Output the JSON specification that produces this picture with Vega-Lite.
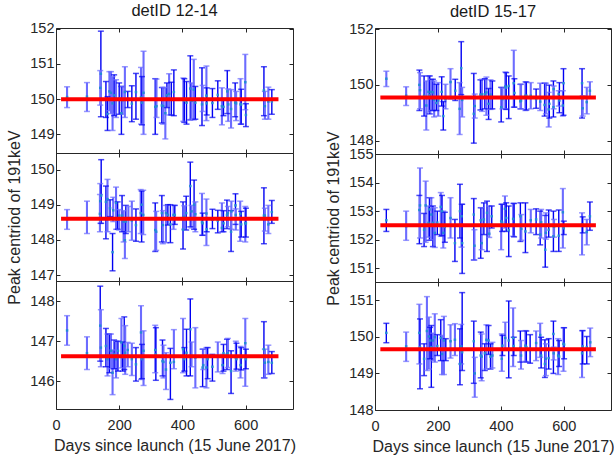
{
"$schema": "https://vega.github.io/schema/vega-lite/v6.json",
"padding": {"left": 6, "top": 2, "right": 2, "bottom": 0},
"background": "white",
"config": {
  "view": {"stroke": "#262626", "strokeWidth": 1},
  "axis": {"domain": false, "grid": false, "tickColor": "#262626", "tickSize": -4, "tickWidth": 1, "labelFlush": false, "labelFont": "Liberation Sans", "labelFontSize": 14.5, "labelColor": "#262626", "titleFont": "Liberation Sans", "titleFontSize": 16, "titleFontWeight": "normal", "titleColor": "#262626"},
  "axisX": {"labelPadding": 13, "titlePadding": 6},
  "axisY": {"labelPadding": 6, "titlePadding": 7},
  "title": {"font": "Liberation Sans", "fontSize": 16.5, "fontWeight": "normal", "color": "#1a1a1a", "offset": 1}
},
"datasets": {
"fit": [
 {"p":"lt","x0":16,"x1":704,"y":150.0},
 {"p":"lm","x0":16,"x1":704,"y":148.6},
 {"p":"lb","x0":16,"x1":704,"y":146.62},
 {"p":"rt","x0":17,"x1":702,"y":149.55},
 {"p":"rm","x0":17,"x1":702,"y":152.51},
 {"p":"rb","x0":17,"x1":702,"y":149.66}
],
"pts": [
 {"p":"lt","d":35,"c":150.06,"lo":149.76,"hi":150.35,"g":"b"},
 {"p":"lt","d":98,"c":150.07,"lo":149.65,"hi":150.47,"g":"b"},
 {"p":"lt","d":142,"c":150.72,"lo":149.5,"hi":151.93,"g":"a"},
 {"p":"lt","d":140,"c":150.32,"lo":149.83,"hi":150.81,"g":"b"},
 {"p":"lt","d":158,"c":150.0,"lo":149.48,"hi":150.5,"g":"a"},
 {"p":"lt","d":163,"c":149.58,"lo":149.11,"hi":150.07,"g":"a"},
 {"p":"lt","d":169,"c":150.22,"lo":149.67,"hi":150.78,"g":"b"},
 {"p":"lt","d":174,"c":150.18,"lo":149.59,"hi":150.78,"g":"b"},
 {"p":"lt","d":179,"c":149.88,"lo":149.11,"hi":150.64,"g":"b"},
 {"p":"lt","d":184,"c":150.11,"lo":149.53,"hi":150.69,"g":"a"},
 {"p":"lt","d":190,"c":150.02,"lo":149.48,"hi":150.55,"g":"b"},
 {"p":"lt","d":200,"c":150.02,"lo":149.57,"hi":150.46,"g":"a"},
 {"p":"lt","d":207,"c":149.6,"lo":149.0,"hi":150.36,"g":"a"},
 {"p":"lt","d":211,"c":149.97,"lo":149.57,"hi":150.36,"g":"b"},
 {"p":"lt","d":218,"c":150.2,"lo":149.48,"hi":150.92,"g":"b"},
 {"p":"lt","d":227,"c":150.0,"lo":149.76,"hi":150.22,"g":"a"},
 {"p":"lt","d":240,"c":149.87,"lo":149.36,"hi":150.38,"g":"a"},
 {"p":"lt","d":253,"c":150.2,"lo":149.43,"hi":150.73,"g":"a"},
 {"p":"lt","d":269,"c":150.05,"lo":149.29,"hi":150.9,"g":"b"},
 {"p":"lt","d":272,"c":149.9,"lo":149.27,"hi":150.64,"g":"a"},
 {"p":"lt","d":277,"c":150.18,"lo":149.0,"hi":151.36,"g":"b"},
 {"p":"lt","d":314,"c":149.78,"lo":149.0,"hi":150.58,"g":"a"},
 {"p":"lt","d":318,"c":149.8,"lo":149.48,"hi":150.57,"g":"b"},
 {"p":"lt","d":335,"c":149.82,"lo":149.32,"hi":150.33,"g":"a"},
 {"p":"lt","d":339,"c":149.8,"lo":149.29,"hi":150.33,"g":"b"},
 {"p":"lt","d":346,"c":149.6,"lo":148.87,"hi":150.33,"g":"b"},
 {"p":"lt","d":351,"c":150.11,"lo":149.76,"hi":150.46,"g":"a"},
 {"p":"lt","d":358,"c":150.15,"lo":149.55,"hi":150.72,"g":"b"},
 {"p":"lt","d":365,"c":150.0,"lo":149.55,"hi":150.48,"g":"a"},
 {"p":"lt","d":373,"c":150.2,"lo":149.53,"hi":150.83,"g":"a"},
 {"p":"lt","d":403,"c":149.98,"lo":149.37,"hi":150.6,"g":"b"},
 {"p":"lt","d":406,"c":149.96,"lo":149.34,"hi":150.58,"g":"a"},
 {"p":"lt","d":413,"c":149.9,"lo":149.29,"hi":150.5,"g":"a"},
 {"p":"lt","d":425,"c":150.3,"lo":149.41,"hi":151.23,"g":"a"},
 {"p":"lt","d":429,"c":149.95,"lo":149.43,"hi":150.46,"g":"b"},
 {"p":"lt","d":436,"c":150.27,"lo":149.41,"hi":151.13,"g":"b"},
 {"p":"lt","d":441,"c":149.9,"lo":149.43,"hi":150.36,"g":"a"},
 {"p":"lt","d":462,"c":149.85,"lo":149.25,"hi":150.89,"g":"a"},
 {"p":"lt","d":464,"c":150.02,"lo":149.65,"hi":150.39,"g":"b"},
 {"p":"lt","d":476,"c":150.1,"lo":149.39,"hi":150.94,"g":"b"},
 {"p":"lt","d":477,"c":149.88,"lo":149.55,"hi":150.32,"g":"a"},
 {"p":"lt","d":495,"c":149.89,"lo":149.48,"hi":150.3,"g":"a"},
 {"p":"lt","d":512,"c":150.12,"lo":149.71,"hi":150.52,"g":"a"},
 {"p":"lt","d":525,"c":149.8,"lo":149.27,"hi":150.32,"g":"b"},
 {"p":"lt","d":530,"c":149.78,"lo":149.53,"hi":150.02,"g":"a"},
 {"p":"lt","d":542,"c":150.22,"lo":149.59,"hi":150.81,"g":"a"},
 {"p":"lt","d":545,"c":149.85,"lo":149.37,"hi":150.29,"g":"b"},
 {"p":"lt","d":554,"c":149.72,"lo":149.18,"hi":150.27,"g":"b"},
 {"p":"lt","d":567,"c":149.9,"lo":149.5,"hi":150.46,"g":"a"},
 {"p":"lt","d":570,"c":149.88,"lo":149.39,"hi":150.22,"g":"b"},
 {"p":"lt","d":584,"c":149.85,"lo":149.29,"hi":150.58,"g":"b"},
 {"p":"lt","d":586,"c":149.85,"lo":149.29,"hi":150.28,"g":"a"},
 {"p":"lt","d":599,"c":150.48,"lo":149.7,"hi":151.27,"g":"b"},
 {"p":"lt","d":601,"c":149.55,"lo":149.22,"hi":149.87,"g":"a"},
 {"p":"lt","d":658,"c":150.25,"lo":149.53,"hi":150.92,"g":"a"},
 {"p":"lt","d":661,"c":149.8,"lo":149.43,"hi":150.22,"g":"b"},
 {"p":"lt","d":672,"c":149.93,"lo":149.43,"hi":150.34,"g":"b"},
 {"p":"lt","d":683,"c":149.93,"lo":149.57,"hi":150.27,"g":"a"},

 {"p":"rt","d":36,"c":150.22,"lo":149.94,"hi":150.49,"g":"b"},
 {"p":"rt","d":99,"c":149.61,"lo":149.26,"hi":149.93,"g":"b"},
 {"p":"rt","d":141,"c":150.0,"lo":149.08,"hi":150.53,"g":"a"},
 {"p":"rt","d":143,"c":149.81,"lo":149.14,"hi":150.44,"g":"b"},
 {"p":"rt","d":156,"c":149.61,"lo":148.88,"hi":150.32,"g":"a"},
 {"p":"rt","d":163,"c":149.26,"lo":148.38,"hi":150.14,"g":"b"},
 {"p":"rt","d":170,"c":149.75,"lo":149.02,"hi":150.32,"g":"b"},
 {"p":"rt","d":174,"c":149.64,"lo":148.96,"hi":150.32,"g":"a"},
 {"p":"rt","d":179,"c":149.75,"lo":149.08,"hi":150.2,"g":"b"},
 {"p":"rt","d":184,"c":149.73,"lo":149.08,"hi":150.2,"g":"a"},
 {"p":"rt","d":188,"c":149.47,"lo":148.85,"hi":150.14,"g":"b"},
 {"p":"rt","d":195,"c":149.35,"lo":149.08,"hi":150.02,"g":"a"},
 {"p":"rt","d":201,"c":149.44,"lo":148.88,"hi":150.08,"g":"b"},
 {"p":"rt","d":212,"c":149.75,"lo":149.24,"hi":150.29,"g":"a"},
 {"p":"rt","d":217,"c":148.88,"lo":148.38,"hi":149.4,"g":"a"},
 {"p":"rt","d":224,"c":149.49,"lo":149.14,"hi":150.02,"g":"b"},
 {"p":"rt","d":240,"c":150.1,"lo":149.49,"hi":150.58,"g":"b"},
 {"p":"rt","d":255,"c":149.79,"lo":149.44,"hi":150.2,"g":"a"},
 {"p":"rt","d":269,"c":149.14,"lo":148.22,"hi":150.08,"g":"b"},
 {"p":"rt","d":274,"c":150.6,"lo":149.65,"hi":151.55,"g":"a"},
 {"p":"rt","d":277,"c":149.46,"lo":148.85,"hi":149.91,"g":"b"},
 {"p":"rt","d":314,"c":148.96,"lo":147.91,"hi":150.41,"g":"a"},
 {"p":"rt","d":317,"c":149.24,"lo":148.81,"hi":149.67,"g":"b"},
 {"p":"rt","d":335,"c":149.65,"lo":149.1,"hi":150.18,"g":"a"},
 {"p":"rt","d":340,"c":149.66,"lo":149.05,"hi":150.2,"g":"b"},
 {"p":"rt","d":349,"c":149.66,"lo":149.14,"hi":150.22,"g":"a"},
 {"p":"rt","d":354,"c":149.73,"lo":148.91,"hi":150.28,"g":"b"},
 {"p":"rt","d":361,"c":149.32,"lo":148.76,"hi":149.87,"g":"a"},
 {"p":"rt","d":367,"c":149.65,"lo":149.12,"hi":150.18,"g":"b"},
 {"p":"rt","d":373,"c":149.55,"lo":149.14,"hi":150.14,"g":"a"},
 {"p":"rt","d":401,"c":149.2,"lo":148.67,"hi":149.91,"g":"a"},
 {"p":"rt","d":405,"c":149.49,"lo":149.14,"hi":149.88,"g":"b"},
 {"p":"rt","d":414,"c":149.94,"lo":149.14,"hi":150.46,"g":"b"},
 {"p":"rt","d":417,"c":149.9,"lo":149.12,"hi":150.44,"g":"a"},
 {"p":"rt","d":425,"c":149.96,"lo":148.79,"hi":150.32,"g":"a"},
 {"p":"rt","d":441,"c":150.06,"lo":149.2,"hi":151.24,"g":"b"},
 {"p":"rt","d":443,"c":149.71,"lo":149.2,"hi":150.22,"g":"a"},
 {"p":"rt","d":462,"c":149.41,"lo":149.14,"hi":150.02,"g":"a"},
 {"p":"rt","d":464,"c":149.44,"lo":149.14,"hi":150.02,"g":"b"},
 {"p":"rt","d":478,"c":149.61,"lo":149.08,"hi":150.11,"g":"b"},
 {"p":"rt","d":481,"c":149.61,"lo":149.1,"hi":150.1,"g":"a"},
 {"p":"rt","d":495,"c":149.61,"lo":149.14,"hi":150.08,"g":"b"},
 {"p":"rt","d":512,"c":149.49,"lo":149.16,"hi":149.85,"g":"a"},
 {"p":"rt","d":525,"c":149.4,"lo":149.08,"hi":150.06,"g":"b"},
 {"p":"rt","d":539,"c":149.28,"lo":148.88,"hi":150.06,"g":"a"},
 {"p":"rt","d":543,"c":149.49,"lo":148.96,"hi":150.06,"g":"b"},
 {"p":"rt","d":552,"c":149.12,"lo":148.49,"hi":149.73,"g":"b"},
 {"p":"rt","d":554,"c":149.32,"lo":148.81,"hi":149.99,"g":"a"},
 {"p":"rt","d":567,"c":149.2,"lo":148.85,"hi":150.14,"g":"a"},
 {"p":"rt","d":568,"c":149.85,"lo":149.14,"hi":149.96,"g":"b"},
 {"p":"rt","d":584,"c":149.67,"lo":149.24,"hi":149.79,"g":"b"},
 {"p":"rt","d":586,"c":149.44,"lo":149.0,"hi":150.08,"g":"a"},
 {"p":"rt","d":597,"c":149.26,"lo":148.88,"hi":149.79,"g":"b"},
 {"p":"rt","d":599,"c":150.06,"lo":148.91,"hi":150.58,"g":"a"},
 {"p":"rt","d":658,"c":150.06,"lo":148.81,"hi":150.58,"g":"a"},
 {"p":"rt","d":660,"c":149.16,"lo":148.88,"hi":149.61,"g":"b"},
 {"p":"rt","d":673,"c":149.38,"lo":148.96,"hi":149.91,"g":"b"},
 {"p":"rt","d":683,"c":149.79,"lo":149.55,"hi":150.11,"g":"b"},

 {"p":"lm","d":35,"c":148.58,"lo":148.3,"hi":148.86,"g":"b"},
 {"p":"lm","d":98,"c":148.61,"lo":148.18,"hi":149.1,"g":"b"},
 {"p":"lm","d":140,"c":149.1,"lo":148.47,"hi":149.6,"g":"b"},
 {"p":"lm","d":143,"c":149.26,"lo":148.47,"hi":150.28,"g":"a"},
 {"p":"lm","d":139,"c":148.74,"lo":148.23,"hi":149.29,"g":"b"},
 {"p":"lm","d":158,"c":149.08,"lo":148.03,"hi":149.53,"g":"a"},
 {"p":"lm","d":163,"c":149.16,"lo":148.23,"hi":149.72,"g":"b"},
 {"p":"lm","d":171,"c":148.9,"lo":148.66,"hi":149.14,"g":"a"},
 {"p":"lm","d":179,"c":147.65,"lo":147.12,"hi":148.18,"g":"a"},
 {"p":"lm","d":181,"c":148.84,"lo":148.52,"hi":149.21,"g":"b"},
 {"p":"lm","d":190,"c":149.05,"lo":148.3,"hi":149.5,"g":"b"},
 {"p":"lm","d":195,"c":148.57,"lo":148.3,"hi":149.08,"g":"a"},
 {"p":"lm","d":200,"c":148.69,"lo":148.28,"hi":148.86,"g":"b"},
 {"p":"lm","d":209,"c":148.69,"lo":148.23,"hi":149.26,"g":"a"},
 {"p":"lm","d":214,"c":148.52,"lo":147.94,"hi":148.83,"g":"b"},
 {"p":"lm","d":218,"c":147.99,"lo":147.47,"hi":148.57,"g":"b"},
 {"p":"lm","d":221,"c":148.52,"lo":148.18,"hi":148.98,"g":"a"},
 {"p":"lm","d":229,"c":148.6,"lo":148.23,"hi":148.95,"g":"b"},
 {"p":"lm","d":240,"c":148.55,"lo":147.99,"hi":149.1,"g":"b"},
 {"p":"lm","d":253,"c":148.42,"lo":147.96,"hi":148.88,"g":"a"},
 {"p":"lm","d":268,"c":148.76,"lo":148.18,"hi":149.43,"g":"b"},
 {"p":"lm","d":271,"c":149.0,"lo":147.94,"hi":149.39,"g":"a"},
 {"p":"lm","d":276,"c":148.71,"lo":148.15,"hi":149.41,"g":"b"},
 {"p":"lm","d":314,"c":148.28,"lo":147.67,"hi":149.05,"g":"a"},
 {"p":"lm","d":317,"c":148.23,"lo":147.7,"hi":148.81,"g":"b"},
 {"p":"lm","d":335,"c":148.76,"lo":147.94,"hi":149.26,"g":"a"},
 {"p":"lm","d":338,"c":148.42,"lo":147.89,"hi":148.83,"g":"b"},
 {"p":"lm","d":348,"c":148.76,"lo":147.92,"hi":148.98,"g":"b"},
 {"p":"lm","d":354,"c":148.71,"lo":148.42,"hi":149.0,"g":"a"},
 {"p":"lm","d":362,"c":148.44,"lo":147.92,"hi":149.0,"g":"a"},
 {"p":"lm","d":372,"c":148.71,"lo":148.3,"hi":148.98,"g":"b"},
 {"p":"lm","d":376,"c":148.71,"lo":148.44,"hi":148.98,"g":"a"},
 {"p":"lm","d":402,"c":148.29,"lo":147.74,"hi":149.08,"g":"a"},
 {"p":"lm","d":406,"c":148.66,"lo":148.3,"hi":148.97,"g":"b"},
 {"p":"lm","d":412,"c":148.76,"lo":148.28,"hi":149.24,"g":"a"},
 {"p":"lm","d":425,"c":149.53,"lo":148.37,"hi":150.21,"g":"a"},
 {"p":"lm","d":429,"c":148.81,"lo":148.34,"hi":148.98,"g":"b"},
 {"p":"lm","d":437,"c":149.0,"lo":148.3,"hi":149.7,"g":"a"},
 {"p":"lm","d":441,"c":148.73,"lo":148.23,"hi":149.08,"g":"b"},
 {"p":"lm","d":462,"c":148.5,"lo":148.13,"hi":149.32,"g":"b"},
 {"p":"lm","d":464,"c":148.47,"lo":148.13,"hi":148.76,"g":"a"},
 {"p":"lm","d":476,"c":148.75,"lo":147.84,"hi":149.16,"g":"b"},
 {"p":"lm","d":477,"c":148.3,"lo":148.23,"hi":148.61,"g":"a"},
 {"p":"lm","d":495,"c":148.57,"lo":148.32,"hi":148.87,"g":"a"},
 {"p":"lm","d":512,"c":148.54,"lo":148.2,"hi":148.84,"g":"a"},
 {"p":"lm","d":525,"c":148.34,"lo":148.23,"hi":149.05,"g":"b"},
 {"p":"lm","d":530,"c":148.47,"lo":148.23,"hi":148.83,"g":"a"},
 {"p":"lm","d":541,"c":148.71,"lo":148.32,"hi":149.13,"g":"a"},
 {"p":"lm","d":544,"c":148.76,"lo":148.37,"hi":148.95,"g":"b"},
 {"p":"lm","d":554,"c":148.23,"lo":147.67,"hi":148.83,"g":"a"},
 {"p":"lm","d":555,"c":148.81,"lo":148.3,"hi":149.1,"g":"b"},
 {"p":"lm","d":568,"c":148.98,"lo":148.44,"hi":149.31,"g":"a"},
 {"p":"lm","d":569,"c":148.71,"lo":148.28,"hi":148.88,"g":"b"},
 {"p":"lm","d":583,"c":148.74,"lo":147.96,"hi":149.1,"g":"b"},
 {"p":"lm","d":586,"c":148.44,"lo":148.08,"hi":148.81,"g":"a"},
 {"p":"lm","d":599,"c":148.47,"lo":147.94,"hi":148.95,"g":"b"},
 {"p":"lm","d":601,"c":148.47,"lo":148.08,"hi":148.9,"g":"a"},
 {"p":"lm","d":658,"c":148.69,"lo":147.89,"hi":149.48,"g":"a"},
 {"p":"lm","d":661,"c":148.69,"lo":148.25,"hi":148.9,"g":"b"},
 {"p":"lm","d":672,"c":148.44,"lo":148.18,"hi":148.98,"g":"b"},
 {"p":"lm","d":683,"c":148.79,"lo":148.47,"hi":149.12,"g":"a"},

 {"p":"rm","d":36,"c":152.68,"lo":152.29,"hi":153.06,"g":"a"},
 {"p":"rm","d":99,"c":152.47,"lo":151.98,"hi":153.0,"g":"b"},
 {"p":"rm","d":141,"c":153.04,"lo":151.86,"hi":153.55,"g":"a"},
 {"p":"rm","d":143,"c":153.2,"lo":152.06,"hi":154.51,"g":"b"},
 {"p":"rm","d":156,"c":152.35,"lo":151.76,"hi":152.92,"g":"a"},
 {"p":"rm","d":161,"c":153.2,"lo":151.91,"hi":154.05,"g":"b"},
 {"p":"rm","d":170,"c":152.59,"lo":152.09,"hi":153.18,"g":"b"},
 {"p":"rm","d":173,"c":153.06,"lo":151.98,"hi":153.47,"g":"a"},
 {"p":"rm","d":179,"c":152.88,"lo":152.0,"hi":153.47,"g":"b"},
 {"p":"rm","d":184,"c":152.59,"lo":151.76,"hi":153.18,"g":"a"},
 {"p":"rm","d":190,"c":152.24,"lo":151.73,"hi":153.12,"g":"b"},
 {"p":"rm","d":198,"c":152.6,"lo":152.18,"hi":153.0,"g":"a"},
 {"p":"rm","d":209,"c":153.15,"lo":152.12,"hi":153.65,"g":"b"},
 {"p":"rm","d":213,"c":153.0,"lo":152.14,"hi":153.55,"g":"a"},
 {"p":"rm","d":217,"c":152.24,"lo":151.71,"hi":153.0,"g":"b"},
 {"p":"rm","d":222,"c":152.45,"lo":151.91,"hi":152.96,"g":"a"},
 {"p":"rm","d":240,"c":152.76,"lo":152.06,"hi":153.47,"g":"b"},
 {"p":"rm","d":254,"c":151.88,"lo":151.24,"hi":152.71,"g":"a"},
 {"p":"rm","d":270,"c":153.0,"lo":152.06,"hi":153.94,"g":"a"},
 {"p":"rm","d":275,"c":152.82,"lo":151.74,"hi":153.24,"g":"b"},
 {"p":"rm","d":277,"c":151.88,"lo":150.82,"hi":153.24,"g":"a"},
 {"p":"rm","d":314,"c":152.88,"lo":151.29,"hi":153.44,"g":"a"},
 {"p":"rm","d":316,"c":151.79,"lo":151.29,"hi":152.35,"g":"b"},
 {"p":"rm","d":336,"c":152.68,"lo":151.35,"hi":153.12,"g":"a"},
 {"p":"rm","d":339,"c":151.88,"lo":151.65,"hi":153.12,"g":"b"},
 {"p":"rm","d":346,"c":152.71,"lo":152.18,"hi":153.29,"g":"a"},
 {"p":"rm","d":356,"c":152.94,"lo":151.59,"hi":153.35,"g":"a"},
 {"p":"rm","d":363,"c":152.21,"lo":152.08,"hi":153.18,"g":"b"},
 {"p":"rm","d":371,"c":152.82,"lo":152.41,"hi":153.18,"g":"a"},
 {"p":"rm","d":401,"c":152.65,"lo":151.65,"hi":153.24,"g":"b"},
 {"p":"rm","d":404,"c":152.6,"lo":152.29,"hi":153.24,"g":"a"},
 {"p":"rm","d":413,"c":153.08,"lo":152.41,"hi":153.53,"g":"b"},
 {"p":"rm","d":417,"c":152.76,"lo":152.29,"hi":153.29,"g":"a"},
 {"p":"rm","d":425,"c":152.33,"lo":151.41,"hi":153.18,"g":"a"},
 {"p":"rm","d":439,"c":152.73,"lo":152.12,"hi":153.27,"g":"b"},
 {"p":"rm","d":442,"c":152.5,"lo":152.1,"hi":153.27,"g":"a"},
 {"p":"rm","d":462,"c":152.82,"lo":151.94,"hi":153.29,"g":"a"},
 {"p":"rm","d":465,"c":152.38,"lo":151.98,"hi":152.88,"g":"b"},
 {"p":"rm","d":478,"c":152.29,"lo":151.55,"hi":153.29,"g":"a"},
 {"p":"rm","d":495,"c":152.68,"lo":152.24,"hi":153.06,"g":"b"},
 {"p":"rm","d":512,"c":152.71,"lo":152.18,"hi":153.08,"g":"a"},
 {"p":"rm","d":525,"c":152.18,"lo":151.82,"hi":153.0,"g":"a"},
 {"p":"rm","d":528,"c":152.61,"lo":152.06,"hi":153.06,"g":"b"},
 {"p":"rm","d":541,"c":151.65,"lo":151.04,"hi":152.85,"g":"a"},
 {"p":"rm","d":543,"c":152.24,"lo":152.02,"hi":152.94,"g":"b"},
 {"p":"rm","d":552,"c":152.35,"lo":152.09,"hi":153.04,"g":"a"},
 {"p":"rm","d":567,"c":152.12,"lo":151.59,"hi":153.0,"g":"a"},
 {"p":"rm","d":569,"c":152.45,"lo":152.09,"hi":152.71,"g":"b"},
 {"p":"rm","d":584,"c":152.14,"lo":151.59,"hi":153.04,"g":"a"},
 {"p":"rm","d":597,"c":152.96,"lo":151.71,"hi":153.79,"g":"b"},
 {"p":"rm","d":600,"c":152.4,"lo":152.18,"hi":152.65,"g":"a"},
 {"p":"rm","d":658,"c":152.53,"lo":151.47,"hi":152.94,"g":"b"},
 {"p":"rm","d":660,"c":152.52,"lo":152.24,"hi":152.8,"g":"a"},
 {"p":"rm","d":673,"c":152.27,"lo":151.82,"hi":152.71,"g":"b"},
 {"p":"rm","d":683,"c":152.82,"lo":152.33,"hi":153.32,"g":"a"},

 {"p":"lb","d":35,"c":147.27,"lo":146.9,"hi":147.64,"g":"b"},
 {"p":"lb","d":98,"c":146.7,"lo":146.29,"hi":147.11,"g":"b"},
 {"p":"lb","d":140,"c":147.39,"lo":146.5,"hi":148.38,"g":"a"},
 {"p":"lb","d":142,"c":146.84,"lo":146.36,"hi":147.79,"g":"b"},
 {"p":"lb","d":158,"c":146.88,"lo":146.36,"hi":147.32,"g":"a"},
 {"p":"lb","d":163,"c":146.55,"lo":146.13,"hi":147.18,"g":"b"},
 {"p":"lb","d":169,"c":146.63,"lo":146.21,"hi":147.18,"g":"a"},
 {"p":"lb","d":174,"c":146.76,"lo":146.31,"hi":147.18,"g":"b"},
 {"p":"lb","d":179,"c":146.21,"lo":145.66,"hi":146.78,"g":"b"},
 {"p":"lb","d":184,"c":146.67,"lo":146.31,"hi":147.03,"g":"a"},
 {"p":"lb","d":190,"c":146.55,"lo":146.08,"hi":147.0,"g":"b"},
 {"p":"lb","d":196,"c":146.76,"lo":146.25,"hi":147.0,"g":"a"},
 {"p":"lb","d":207,"c":146.97,"lo":146.33,"hi":147.57,"g":"b"},
 {"p":"lb","d":211,"c":146.6,"lo":146.25,"hi":146.98,"g":"a"},
 {"p":"lb","d":216,"c":146.88,"lo":146.29,"hi":147.61,"g":"a"},
 {"p":"lb","d":219,"c":146.71,"lo":146.17,"hi":147.39,"g":"b"},
 {"p":"lb","d":227,"c":146.78,"lo":146.36,"hi":146.97,"g":"b"},
 {"p":"lb","d":240,"c":146.55,"lo":146.14,"hi":146.95,"g":"b"},
 {"p":"lb","d":253,"c":146.42,"lo":146.0,"hi":146.84,"g":"a"},
 {"p":"lb","d":269,"c":147.22,"lo":146.04,"hi":147.89,"g":"b"},
 {"p":"lb","d":272,"c":146.55,"lo":146.06,"hi":146.92,"g":"a"},
 {"p":"lb","d":277,"c":146.76,"lo":145.89,"hi":147.26,"g":"b"},
 {"p":"lb","d":314,"c":146.78,"lo":146.21,"hi":147.4,"g":"b"},
 {"p":"lb","d":316,"c":146.67,"lo":146.02,"hi":147.34,"g":"a"},
 {"p":"lb","d":337,"c":146.5,"lo":146.13,"hi":147.03,"g":"a"},
 {"p":"lb","d":340,"c":146.48,"lo":146.08,"hi":146.9,"g":"b"},
 {"p":"lb","d":348,"c":146.29,"lo":145.79,"hi":146.71,"g":"b"},
 {"p":"lb","d":362,"c":146.46,"lo":145.54,"hi":146.82,"g":"a"},
 {"p":"lb","d":373,"c":146.48,"lo":146.31,"hi":147.29,"g":"b"},
 {"p":"lb","d":402,"c":146.8,"lo":146.21,"hi":147.57,"g":"b"},
 {"p":"lb","d":406,"c":146.55,"lo":146.25,"hi":146.84,"g":"a"},
 {"p":"lb","d":413,"c":146.71,"lo":146.13,"hi":147.3,"g":"a"},
 {"p":"lb","d":425,"c":147.3,"lo":146.13,"hi":148.06,"g":"a"},
 {"p":"lb","d":429,"c":146.63,"lo":146.36,"hi":146.98,"g":"b"},
 {"p":"lb","d":441,"c":146.59,"lo":145.83,"hi":147.34,"g":"b"},
 {"p":"lb","d":464,"c":146.34,"lo":145.86,"hi":146.8,"g":"a"},
 {"p":"lb","d":466,"c":146.4,"lo":146.29,"hi":146.8,"g":"b"},
 {"p":"lb","d":476,"c":146.34,"lo":145.83,"hi":146.84,"g":"b"},
 {"p":"lb","d":480,"c":146.55,"lo":146.06,"hi":146.84,"g":"a"},
 {"p":"lb","d":495,"c":146.36,"lo":146.0,"hi":146.67,"g":"a"},
 {"p":"lb","d":512,"c":146.63,"lo":146.23,"hi":146.98,"g":"b"},
 {"p":"lb","d":527,"c":146.4,"lo":146.19,"hi":146.67,"g":"b"},
 {"p":"lb","d":530,"c":146.7,"lo":146.25,"hi":146.92,"g":"a"},
 {"p":"lb","d":541,"c":146.67,"lo":146.29,"hi":147.05,"g":"a"},
 {"p":"lb","d":544,"c":146.7,"lo":146.34,"hi":147.07,"g":"b"},
 {"p":"lb","d":554,"c":146.25,"lo":145.69,"hi":146.76,"g":"a"},
 {"p":"lb","d":569,"c":146.59,"lo":146.25,"hi":147.0,"g":"b"},
 {"p":"lb","d":571,"c":146.55,"lo":146.3,"hi":146.95,"g":"a"},
 {"p":"lb","d":584,"c":146.4,"lo":146.08,"hi":146.87,"g":"b"},
 {"p":"lb","d":586,"c":146.59,"lo":146.28,"hi":146.84,"g":"a"},
 {"p":"lb","d":599,"c":146.95,"lo":145.87,"hi":147.57,"g":"b"},
 {"p":"lb","d":601,"c":146.55,"lo":146.31,"hi":146.8,"g":"a"},
 {"p":"lb","d":658,"c":146.8,"lo":146.08,"hi":147.49,"g":"a"},
 {"p":"lb","d":661,"c":146.46,"lo":146.08,"hi":146.8,"g":"b"},
 {"p":"lb","d":672,"c":146.48,"lo":146.17,"hi":146.9,"g":"b"},
 {"p":"lb","d":683,"c":146.46,"lo":146.19,"hi":146.74,"g":"a"},

 {"p":"rb","d":36,"c":150.11,"lo":149.84,"hi":150.37,"g":"a"},
 {"p":"rb","d":99,"c":149.74,"lo":149.33,"hi":150.13,"g":"b"},
 {"p":"rb","d":141,"c":150.11,"lo":149.26,"hi":150.89,"g":"b"},
 {"p":"rb","d":143,"c":149.72,"lo":148.58,"hi":150.49,"g":"a"},
 {"p":"rb","d":156,"c":149.4,"lo":148.94,"hi":149.81,"g":"a"},
 {"p":"rb","d":165,"c":150.16,"lo":149.08,"hi":151.1,"g":"b"},
 {"p":"rb","d":171,"c":150.01,"lo":149.12,"hi":150.54,"g":"b"},
 {"p":"rb","d":175,"c":149.9,"lo":149.4,"hi":150.26,"g":"a"},
 {"p":"rb","d":179,"c":149.72,"lo":148.62,"hi":150.31,"g":"a"},
 {"p":"rb","d":184,"c":149.9,"lo":149.35,"hi":150.1,"g":"b"},
 {"p":"rb","d":190,"c":149.99,"lo":149.31,"hi":150.63,"g":"b"},
 {"p":"rb","d":198,"c":149.75,"lo":149.49,"hi":150.06,"g":"a"},
 {"p":"rb","d":209,"c":149.97,"lo":149.35,"hi":150.47,"g":"a"},
 {"p":"rb","d":213,"c":149.53,"lo":148.97,"hi":150.04,"g":"b"},
 {"p":"rb","d":219,"c":149.9,"lo":148.97,"hi":150.56,"g":"b"},
 {"p":"rb","d":225,"c":149.67,"lo":149.35,"hi":149.95,"g":"a"},
 {"p":"rb","d":240,"c":149.88,"lo":149.42,"hi":150.33,"g":"b"},
 {"p":"rb","d":254,"c":149.92,"lo":149.49,"hi":150.36,"g":"b"},
 {"p":"rb","d":270,"c":149.26,"lo":148.69,"hi":150.22,"g":"a"},
 {"p":"rb","d":274,"c":149.74,"lo":149.26,"hi":150.34,"g":"b"},
 {"p":"rb","d":277,"c":149.58,"lo":149.08,"hi":151.21,"g":"a"},
 {"p":"rb","d":314,"c":149.88,"lo":148.73,"hi":150.43,"g":"a"},
 {"p":"rb","d":317,"c":149.0,"lo":148.35,"hi":149.44,"g":"b"},
 {"p":"rb","d":336,"c":149.49,"lo":148.88,"hi":150.13,"g":"a"},
 {"p":"rb","d":339,"c":149.46,"lo":148.8,"hi":150.08,"g":"b"},
 {"p":"rb","d":349,"c":149.55,"lo":149.08,"hi":149.81,"g":"a"},
 {"p":"rb","d":354,"c":149.92,"lo":149.12,"hi":150.33,"g":"b"},
 {"p":"rb","d":361,"c":149.9,"lo":149.52,"hi":150.31,"g":"a"},
 {"p":"rb","d":367,"c":149.46,"lo":149.12,"hi":149.81,"g":"a"},
 {"p":"rb","d":373,"c":149.49,"lo":149.15,"hi":149.85,"g":"b"},
 {"p":"rb","d":403,"c":149.4,"lo":149.06,"hi":150.08,"g":"b"},
 {"p":"rb","d":405,"c":149.76,"lo":149.49,"hi":150.04,"g":"a"},
 {"p":"rb","d":414,"c":149.97,"lo":149.63,"hi":150.4,"g":"b"},
 {"p":"rb","d":425,"c":149.9,"lo":148.88,"hi":150.98,"g":"a"},
 {"p":"rb","d":439,"c":149.97,"lo":149.19,"hi":150.79,"g":"b"},
 {"p":"rb","d":441,"c":149.75,"lo":149.49,"hi":149.99,"g":"a"},
 {"p":"rb","d":462,"c":149.7,"lo":149.31,"hi":150.16,"g":"a"},
 {"p":"rb","d":464,"c":149.49,"lo":149.12,"hi":149.9,"g":"b"},
 {"p":"rb","d":478,"c":149.76,"lo":149.33,"hi":150.17,"g":"b"},
 {"p":"rb","d":481,"c":149.72,"lo":149.31,"hi":150.16,"g":"a"},
 {"p":"rb","d":493,"c":149.67,"lo":149.28,"hi":150.06,"g":"a"},
 {"p":"rb","d":512,"c":149.83,"lo":149.35,"hi":150.16,"g":"b"},
 {"p":"rb","d":525,"c":150.05,"lo":149.44,"hi":150.37,"g":"b"},
 {"p":"rb","d":528,"c":149.49,"lo":149.15,"hi":149.99,"g":"a"},
 {"p":"rb","d":540,"c":149.26,"lo":148.89,"hi":149.92,"g":"a"},
 {"p":"rb","d":543,"c":149.4,"lo":148.94,"hi":149.81,"g":"b"},
 {"p":"rb","d":552,"c":149.42,"lo":149.12,"hi":149.95,"g":"a"},
 {"p":"rb","d":567,"c":150.08,"lo":149.0,"hi":150.43,"g":"a"},
 {"p":"rb","d":568,"c":149.55,"lo":149.37,"hi":149.72,"g":"b"},
 {"p":"rb","d":582,"c":149.49,"lo":148.97,"hi":149.95,"g":"b"},
 {"p":"rb","d":585,"c":149.46,"lo":149.19,"hi":149.9,"g":"a"},
 {"p":"rb","d":599,"c":149.81,"lo":149.06,"hi":150.25,"g":"b"},
 {"p":"rb","d":601,"c":149.79,"lo":149.4,"hi":150.25,"g":"a"},
 {"p":"rb","d":658,"c":149.55,"lo":148.89,"hi":150.17,"g":"b"},
 {"p":"rb","d":660,"c":149.74,"lo":149.26,"hi":150.17,"g":"a"},
 {"p":"rb","d":673,"c":149.72,"lo":149.26,"hi":150.01,"g":"a"},
 {"p":"rb","d":684,"c":149.85,"lo":149.46,"hi":150.24,"g":"b"}
]
},
"hconcat": [
 {"spacing": 0, "bounds": "flush", "vconcat": [
  {"width": 237, "height": 125, "title": "detID 12-14",
   "resolve": {"axis": {"x": "independent", "y": "independent"}},
   "layer": [
    {"data": {"name": "pts"}, "transform": [{"filter": "datum.p == 'lt'"}],
     "encoding": {"x": {"field": "d", "type": "quantitative", "scale": {"domain": [0, 750], "nice": false}, "axis": {"labels": false, "values": [0, 200, 400, 600]}, "title": null},
       "color": {"field": "g", "type": "nominal", "scale": {"domain": ["a", "b"], "range": ["#0000f2", "#6c6cff"]}, "legend": null}},
     "layer": [
      {"mark": {"type": "rule"}, "encoding": {"y": {"field": "lo", "type": "quantitative", "scale": {"domain": [148.47, 152.02], "nice": false, "zero": false}, "axis": {"values": [149, 150, 151, 152]}, "title": null}, "y2": {"field": "hi"}, "strokeWidth": {"field": "g", "type": "nominal", "scale": {"domain": ["a", "b"], "range": [1.4, 2.1]}, "legend": null}}},
      {"mark": {"type": "tick", "orient": "horizontal", "size": 6, "thickness": 1.5}, "encoding": {"y": {"field": "lo", "type": "quantitative", "scale": {"domain": [148.47, 152.02], "nice": false, "zero": false}, "axis": {"values": [149, 150, 151, 152]}, "title": null}}},
      {"mark": {"type": "tick", "orient": "horizontal", "size": 6, "thickness": 1.5}, "encoding": {"y": {"field": "hi", "type": "quantitative", "scale": {"domain": [148.47, 152.02], "nice": false, "zero": false}, "axis": {"values": [149, 150, 151, 152]}, "title": null}}},
      {"mark": {"type": "square", "size": 6, "filled": true, "opacity": 1}, "encoding": {"y": {"field": "c", "type": "quantitative", "scale": {"domain": [148.47, 152.02], "nice": false, "zero": false}, "axis": {"values": [149, 150, 151, 152]}, "title": null}, "color": {"value": "#2389d6"}}}
     ]},
    {"data": {"name": "fit"}, "transform": [{"filter": "datum.p == 'lt'"}],
     "mark": {"type": "rule", "color": "#ff0000", "strokeWidth": 4},
     "encoding": {"x": {"field": "x0", "type": "quantitative", "scale": {"domain": [0, 750], "nice": false}, "axis": {"orient": "top", "labels": false, "values": [0, 200, 400, 600]}, "title": null}, "x2": {"field": "x1"},
       "y": {"field": "y", "type": "quantitative", "scale": {"domain": [148.47, 152.02], "nice": false, "zero": false}, "axis": {"orient": "right", "labels": false, "values": [149, 150, 151, 152]}, "title": null}}}
   ]},
  {"width": 237, "height": 128,
   "resolve": {"axis": {"x": "independent", "y": "independent"}},
   "layer": [
    {"data": {"name": "pts"}, "transform": [{"filter": "datum.p == 'lm'"}],
     "encoding": {"x": {"field": "d", "type": "quantitative", "scale": {"domain": [0, 750], "nice": false}, "axis": {"labels": false, "values": [0, 200, 400, 600]}, "title": null},
       "color": {"field": "g", "type": "nominal", "scale": {"domain": ["a", "b"], "range": ["#0000f2", "#6c6cff"]}, "legend": null}},
     "layer": [
      {"mark": {"type": "rule"}, "encoding": {"y": {"field": "lo", "type": "quantitative", "scale": {"domain": [146.83, 150.47], "nice": false, "zero": false}, "axis": {"values": [147, 148, 149, 150]}, "title": "Peak centriod of 191keV"}, "y2": {"field": "hi"}, "strokeWidth": {"field": "g", "type": "nominal", "scale": {"domain": ["a", "b"], "range": [1.4, 2.1]}, "legend": null}}},
      {"mark": {"type": "tick", "orient": "horizontal", "size": 6, "thickness": 1.5}, "encoding": {"y": {"field": "lo", "type": "quantitative", "scale": {"domain": [146.83, 150.47], "nice": false, "zero": false}, "axis": {"values": [147, 148, 149, 150]}, "title": "Peak centriod of 191keV"}}},
      {"mark": {"type": "tick", "orient": "horizontal", "size": 6, "thickness": 1.5}, "encoding": {"y": {"field": "hi", "type": "quantitative", "scale": {"domain": [146.83, 150.47], "nice": false, "zero": false}, "axis": {"values": [147, 148, 149, 150]}, "title": "Peak centriod of 191keV"}}},
      {"mark": {"type": "square", "size": 6, "filled": true, "opacity": 1}, "encoding": {"y": {"field": "c", "type": "quantitative", "scale": {"domain": [146.83, 150.47], "nice": false, "zero": false}, "axis": {"values": [147, 148, 149, 150]}, "title": "Peak centriod of 191keV"}, "color": {"value": "#2389d6"}}}
     ]},
    {"data": {"name": "fit"}, "transform": [{"filter": "datum.p == 'lm'"}],
     "mark": {"type": "rule", "color": "#ff0000", "strokeWidth": 4},
     "encoding": {"x": {"field": "x0", "type": "quantitative", "scale": {"domain": [0, 750], "nice": false}, "axis": {"orient": "top", "labels": false, "values": [0, 200, 400, 600]}, "title": null}, "x2": {"field": "x1"},
       "y": {"field": "y", "type": "quantitative", "scale": {"domain": [146.83, 150.47], "nice": false, "zero": false}, "axis": {"orient": "right", "labels": false, "values": [147, 148, 149, 150]}, "title": null}}}
   ]},
  {"width": 237, "height": 128,
   "resolve": {"axis": {"x": "independent", "y": "independent"}},
   "layer": [
    {"data": {"name": "pts"}, "transform": [{"filter": "datum.p == 'lb'"}],
     "encoding": {"x": {"field": "d", "type": "quantitative", "scale": {"domain": [0, 750], "nice": false}, "axis": {"values": [0, 200, 400, 600]}, "title": "Days since launch (15 June 2017)"},
       "color": {"field": "g", "type": "nominal", "scale": {"domain": ["a", "b"], "range": ["#0000f2", "#6c6cff"]}, "legend": null}},
     "layer": [
      {"mark": {"type": "rule"}, "encoding": {"y": {"field": "lo", "type": "quantitative", "scale": {"domain": [145.3, 148.51], "nice": false, "zero": false}, "axis": {"values": [146, 147, 148]}, "title": null}, "y2": {"field": "hi"}, "strokeWidth": {"field": "g", "type": "nominal", "scale": {"domain": ["a", "b"], "range": [1.4, 2.1]}, "legend": null}}},
      {"mark": {"type": "tick", "orient": "horizontal", "size": 6, "thickness": 1.5}, "encoding": {"y": {"field": "lo", "type": "quantitative", "scale": {"domain": [145.3, 148.51], "nice": false, "zero": false}, "axis": {"values": [146, 147, 148]}, "title": null}}},
      {"mark": {"type": "tick", "orient": "horizontal", "size": 6, "thickness": 1.5}, "encoding": {"y": {"field": "hi", "type": "quantitative", "scale": {"domain": [145.3, 148.51], "nice": false, "zero": false}, "axis": {"values": [146, 147, 148]}, "title": null}}},
      {"mark": {"type": "square", "size": 6, "filled": true, "opacity": 1}, "encoding": {"y": {"field": "c", "type": "quantitative", "scale": {"domain": [145.3, 148.51], "nice": false, "zero": false}, "axis": {"values": [146, 147, 148]}, "title": null}, "color": {"value": "#2389d6"}}}
     ]},
    {"data": {"name": "fit"}, "transform": [{"filter": "datum.p == 'lb'"}],
     "mark": {"type": "rule", "color": "#ff0000", "strokeWidth": 4},
     "encoding": {"x": {"field": "x0", "type": "quantitative", "scale": {"domain": [0, 750], "nice": false}, "axis": {"orient": "top", "labels": false, "values": [0, 200, 400, 600]}, "title": null}, "x2": {"field": "x1"},
       "y": {"field": "y", "type": "quantitative", "scale": {"domain": [145.3, 148.51], "nice": false, "zero": false}, "axis": {"orient": "right", "labels": false, "values": [146, 147, 148]}, "title": null}}}
   ]}
 ]},
 {"spacing": 0, "bounds": "flush", "vconcat": [
  {"width": 236, "height": 126, "title": "detID 15-17",
   "resolve": {"axis": {"x": "independent", "y": "independent"}},
   "layer": [
    {"data": {"name": "pts"}, "transform": [{"filter": "datum.p == 'rt'"}],
     "encoding": {"x": {"field": "d", "type": "quantitative", "scale": {"domain": [0, 750], "nice": false}, "axis": {"labels": false, "values": [0, 200, 400, 600]}, "title": null},
       "color": {"field": "g", "type": "nominal", "scale": {"domain": ["a", "b"], "range": ["#0000f2", "#6c6cff"]}, "legend": null}},
     "layer": [
      {"mark": {"type": "rule"}, "encoding": {"y": {"field": "lo", "type": "quantitative", "scale": {"domain": [147.52, 152.04], "nice": false, "zero": false}, "axis": {"values": [148, 150, 152]}, "title": null}, "y2": {"field": "hi"}, "strokeWidth": {"field": "g", "type": "nominal", "scale": {"domain": ["a", "b"], "range": [1.4, 2.1]}, "legend": null}}},
      {"mark": {"type": "tick", "orient": "horizontal", "size": 6, "thickness": 1.5}, "encoding": {"y": {"field": "lo", "type": "quantitative", "scale": {"domain": [147.52, 152.04], "nice": false, "zero": false}, "axis": {"values": [148, 150, 152]}, "title": null}}},
      {"mark": {"type": "tick", "orient": "horizontal", "size": 6, "thickness": 1.5}, "encoding": {"y": {"field": "hi", "type": "quantitative", "scale": {"domain": [147.52, 152.04], "nice": false, "zero": false}, "axis": {"values": [148, 150, 152]}, "title": null}}},
      {"mark": {"type": "square", "size": 6, "filled": true, "opacity": 1}, "encoding": {"y": {"field": "c", "type": "quantitative", "scale": {"domain": [147.52, 152.04], "nice": false, "zero": false}, "axis": {"values": [148, 150, 152]}, "title": null}, "color": {"value": "#2389d6"}}}
     ]},
    {"data": {"name": "fit"}, "transform": [{"filter": "datum.p == 'rt'"}],
     "mark": {"type": "rule", "color": "#ff0000", "strokeWidth": 4},
     "encoding": {"x": {"field": "x0", "type": "quantitative", "scale": {"domain": [0, 750], "nice": false}, "axis": {"orient": "top", "labels": false, "values": [0, 200, 400, 600]}, "title": null}, "x2": {"field": "x1"},
       "y": {"field": "y", "type": "quantitative", "scale": {"domain": [147.52, 152.04], "nice": false, "zero": false}, "axis": {"orient": "right", "labels": false, "values": [148, 150, 152]}, "title": null}}}
   ]},
  {"width": 236, "height": 128,
   "resolve": {"axis": {"x": "independent", "y": "independent"}},
   "layer": [
    {"data": {"name": "pts"}, "transform": [{"filter": "datum.p == 'rm'"}],
     "encoding": {"x": {"field": "d", "type": "quantitative", "scale": {"domain": [0, 750], "nice": false}, "axis": {"labels": false, "values": [0, 200, 400, 600]}, "title": null},
       "color": {"field": "g", "type": "nominal", "scale": {"domain": ["a", "b"], "range": ["#0000f2", "#6c6cff"]}, "legend": null}},
     "layer": [
      {"mark": {"type": "rule"}, "encoding": {"y": {"field": "lo", "type": "quantitative", "scale": {"domain": [150.52, 155.0], "nice": false, "zero": false}, "axis": {"values": [151, 152, 153, 154, 155]}, "title": "Peak centriod of 191keV"}, "y2": {"field": "hi"}, "strokeWidth": {"field": "g", "type": "nominal", "scale": {"domain": ["a", "b"], "range": [1.4, 2.1]}, "legend": null}}},
      {"mark": {"type": "tick", "orient": "horizontal", "size": 6, "thickness": 1.5}, "encoding": {"y": {"field": "lo", "type": "quantitative", "scale": {"domain": [150.52, 155.0], "nice": false, "zero": false}, "axis": {"values": [151, 152, 153, 154, 155]}, "title": "Peak centriod of 191keV"}}},
      {"mark": {"type": "tick", "orient": "horizontal", "size": 6, "thickness": 1.5}, "encoding": {"y": {"field": "hi", "type": "quantitative", "scale": {"domain": [150.52, 155.0], "nice": false, "zero": false}, "axis": {"values": [151, 152, 153, 154, 155]}, "title": "Peak centriod of 191keV"}}},
      {"mark": {"type": "square", "size": 6, "filled": true, "opacity": 1}, "encoding": {"y": {"field": "c", "type": "quantitative", "scale": {"domain": [150.52, 155.0], "nice": false, "zero": false}, "axis": {"values": [151, 152, 153, 154, 155]}, "title": "Peak centriod of 191keV"}, "color": {"value": "#2389d6"}}}
     ]},
    {"data": {"name": "fit"}, "transform": [{"filter": "datum.p == 'rm'"}],
     "mark": {"type": "rule", "color": "#ff0000", "strokeWidth": 4},
     "encoding": {"x": {"field": "x0", "type": "quantitative", "scale": {"domain": [0, 750], "nice": false}, "axis": {"orient": "top", "labels": false, "values": [0, 200, 400, 600]}, "title": null}, "x2": {"field": "x1"},
       "y": {"field": "y", "type": "quantitative", "scale": {"domain": [150.52, 155.0], "nice": false, "zero": false}, "axis": {"orient": "right", "labels": false, "values": [151, 152, 153, 154, 155]}, "title": null}}}
   ]},
  {"width": 236, "height": 128,
   "resolve": {"axis": {"x": "independent", "y": "independent"}},
   "layer": [
    {"data": {"name": "pts"}, "transform": [{"filter": "datum.p == 'rb'"}],
     "encoding": {"x": {"field": "d", "type": "quantitative", "scale": {"domain": [0, 750], "nice": false}, "axis": {"values": [0, 200, 400, 600]}, "title": "Days since launch (15 June 2017)"},
       "color": {"field": "g", "type": "nominal", "scale": {"domain": ["a", "b"], "range": ["#0000f2", "#6c6cff"]}, "legend": null}},
     "layer": [
      {"mark": {"type": "rule"}, "encoding": {"y": {"field": "lo", "type": "quantitative", "scale": {"domain": [148.0, 151.5], "nice": false, "zero": false}, "axis": {"values": [148, 149, 150, 151]}, "title": null}, "y2": {"field": "hi"}, "strokeWidth": {"field": "g", "type": "nominal", "scale": {"domain": ["a", "b"], "range": [1.4, 2.1]}, "legend": null}}},
      {"mark": {"type": "tick", "orient": "horizontal", "size": 6, "thickness": 1.5}, "encoding": {"y": {"field": "lo", "type": "quantitative", "scale": {"domain": [148.0, 151.5], "nice": false, "zero": false}, "axis": {"values": [148, 149, 150, 151]}, "title": null}}},
      {"mark": {"type": "tick", "orient": "horizontal", "size": 6, "thickness": 1.5}, "encoding": {"y": {"field": "hi", "type": "quantitative", "scale": {"domain": [148.0, 151.5], "nice": false, "zero": false}, "axis": {"values": [148, 149, 150, 151]}, "title": null}}},
      {"mark": {"type": "square", "size": 6, "filled": true, "opacity": 1}, "encoding": {"y": {"field": "c", "type": "quantitative", "scale": {"domain": [148.0, 151.5], "nice": false, "zero": false}, "axis": {"values": [148, 149, 150, 151]}, "title": null}, "color": {"value": "#2389d6"}}}
     ]},
    {"data": {"name": "fit"}, "transform": [{"filter": "datum.p == 'rb'"}],
     "mark": {"type": "rule", "color": "#ff0000", "strokeWidth": 4},
     "encoding": {"x": {"field": "x0", "type": "quantitative", "scale": {"domain": [0, 750], "nice": false}, "axis": {"orient": "top", "labels": false, "values": [0, 200, 400, 600]}, "title": null}, "x2": {"field": "x1"},
       "y": {"field": "y", "type": "quantitative", "scale": {"domain": [148.0, 151.5], "nice": false, "zero": false}, "axis": {"orient": "right", "labels": false, "values": [148, 149, 150, 151]}, "title": null}}}
   ]}
 ]}
],
"spacing": 29
}
